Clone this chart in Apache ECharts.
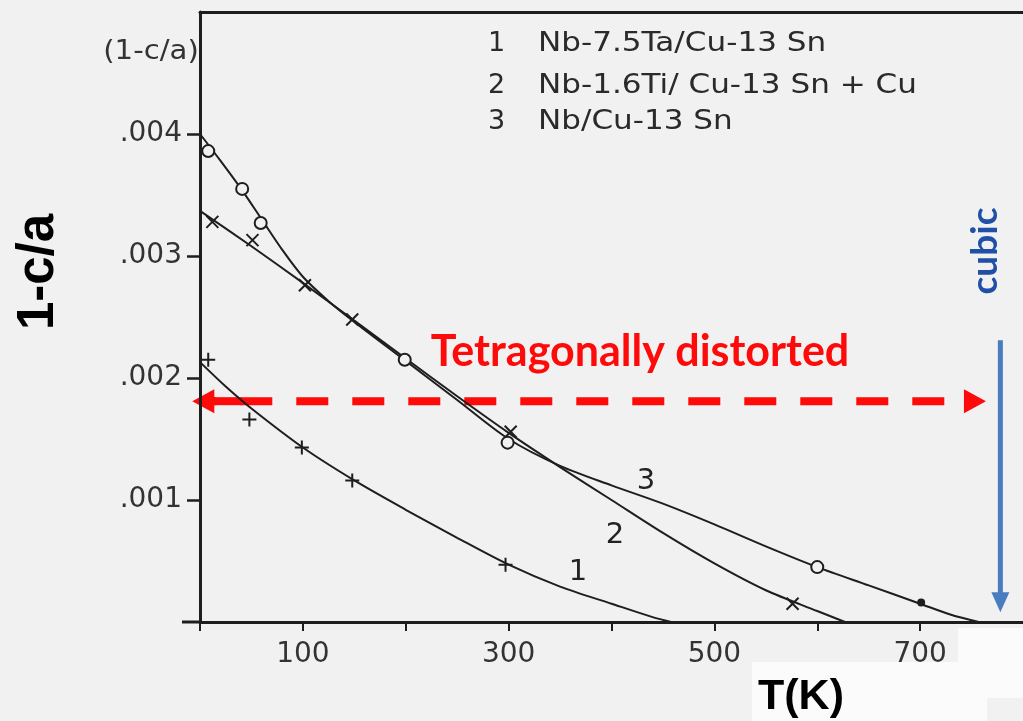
<!DOCTYPE html>
<html>
<head>
<meta charset="utf-8">
<script src="https://cdn.jsdelivr.net/npm/echarts@6/dist/echarts.min.js"></script>
<style>
  html, body { margin: 0; padding: 0; background: #f1f1f1; }
  #chart { width: 1023px; height: 721px; }
</style>
</head>
<body>
<div id="chart"></div>
<script>
// Fitted curves: temperature T (K) and tetragonal distortion 1-c/a
const curve1T = [0, 25, 50, 100, 150, 200, 250, 300, 350, 400, 440, 458];
const curve1V = [0.00213, 0.00193, 0.00175, 0.00143, 0.00116, 0.00092, 0.00069, 0.00047, 0.00029, 0.00015, 0.00004, 0.0];

const curve2T = [0, 50, 100, 150, 200, 250, 300, 350, 400, 450, 500, 550, 600, 627];
const curve2V = [0.00337, 0.00308, 0.00278, 0.00247, 0.00216, 0.00185, 0.00155, 0.00127, 0.00100, 0.00073, 0.00048, 0.00026, 0.00009, 0.0];

const curve3T = [0, 20, 40, 60, 80, 100, 125, 150, 200, 250, 300, 350, 400, 450, 500, 550, 600, 650, 700, 730, 757];
const curve3V = [0.00400, 0.00378, 0.00355, 0.00330, 0.00305, 0.00283, 0.00263, 0.00246, 0.00214, 0.00182, 0.00150, 0.00128, 0.00112, 0.00097, 0.00080, 0.00062, 0.00045, 0.00030, 0.00015, 0.00006, 0.0];

// Measured points
const pts1T = [8, 48, 99, 148, 297];
const pts1V = [0.00215, 0.00166, 0.00143, 0.00116, 0.00047];
const pts2T = [12, 51, 102, 148, 302, 576];
const pts2V = [0.00328, 0.00313, 0.00276, 0.00248, 0.00156, 0.00015];
const pts3T = [8, 41, 59, 199, 299, 600];
const pts3V = [0.00386, 0.00355, 0.00327, 0.00215, 0.00147, 0.00045];
const dotT = [701];
const dotV = [0.00016];

// Axis ticks and labels
const xTicks = [0, 100, 200, 300, 400, 500, 600, 700];
const xLabels = [100, 300, 500, 700];
const yLabels = [0.001, 0.002, 0.003, 0.004];

const legendLines = ['Nb-7.5Ta/Cu-13 Sn', 'Nb-1.6Ti/ Cu-13 Sn + Cu', 'Nb/Cu-13 Sn'];

const INK = '#1e1e1e';
const PAPER = '#f1f1f1';
const SCAN_FONT = 'DejaVu Sans';

function zip(a, b) { return a.map((v, i) => [v, b[i]]); }

const plusPath = 'path://M0,6H12M6,0V12';
const crossPath = 'path://M0,0L12,12M12,0L0,12';

function curve(name, t, v) {
  return {
    name, type: 'line', data: zip(t, v), smooth: 0.3,
    showSymbol: false, silent: true,
    lineStyle: { color: INK, width: 2 }
  };
}
function marks(name, t, v, symbol, size, fill) {
  return {
    name, type: 'scatter', data: zip(t, v), symbol, symbolSize: size,
    silent: true, z: 5,
    itemStyle: { color: fill, borderColor: INK, borderWidth: 2, opacity: 1 }
  };
}

const chart = echarts.init(document.getElementById('chart'), null, { renderer: 'canvas' });

chart.setOption({
  backgroundColor: PAPER,
  animation: false,
  grid: { left: 200, top: 12, right: 0, bottom: 99 },
  xAxis: [{
    type: 'value', min: 0, max: 800, interval: 100,
    axisLine: { lineStyle: { color: INK, width: 3 } },
    axisTick: { customValues: xTicks, length: 9, lineStyle: { color: INK, width: 2 } },
    axisLabel: {
      customValues: xLabels, margin: 19, fontSize: 28, color: '#333',
      fontFamily: SCAN_FONT
    },
    splitLine: { show: false }
  }, {
    type: 'value', position: 'top', min: 0, max: 800,
    axisLine: { lineStyle: { color: INK, width: 3 } },
    axisTick: { show: false }, axisLabel: { show: false }, splitLine: { show: false }
  }],
  yAxis: {
    type: 'value', min: 0, max: 0.005, interval: 0.001,
    axisLine: { lineStyle: { color: INK, width: 3 } },
    axisTick: { customValues: yLabels, length: 13, lineStyle: { color: INK, width: 2.5 } },
    axisLabel: {
      customValues: yLabels, margin: 18, fontSize: 28, color: '#333',
      fontFamily: SCAN_FONT,
      formatter: v => v.toFixed(3).slice(1)
    },
    splitLine: { show: false }
  },
  series: [
    curve('1', curve1T, curve1V),
    curve('2', curve2T, curve2V),
    curve('3', curve3T, curve3V),
    marks('1 pts', pts1T, pts1V, plusPath, 14, 'none'),
    marks('2 pts', pts2T, pts2V, crossPath, 12, 'none'),
    marks('3 pts', pts3T, pts3V, 'circle', 12, PAPER),
    marks('dot', dotT, dotV, 'circle', 6, INK)
  ]
});

// Annotations placed through the axes
const P = (t, v) => chart.convertToPixel({ gridIndex: 0 }, [t, v]);

const arrowY = P(0, 0.00181)[1];
const leftTip = P(-7.5, 0)[0];
const rightTip = P(764, 0)[0];
const headL = 22, headH = 12;
const blueX = P(778, 0)[0];
const blueTop = P(0, 0.00231)[1];
const blueTip = P(0, 0.00008)[1];

const legendNumX = 488, legendTextX = 538;
const legendYs = [44, 86, 122];

const graphics = [
  // page patches of plain white paper
  { type: 'rect', shape: { x: 752, y: 662, width: 235, height: 59 }, style: { fill: '#fbfbfb' }, z: -1 },
  { type: 'rect', shape: { x: 958, y: 628, width: 65, height: 70 }, style: { fill: '#fbfbfb' }, z: -1 },
  // axis stub left of the origin
  { type: 'line', shape: { x1: 182, y1: P(0, 0)[1], x2: 200, y2: P(0, 0)[1] }, style: { stroke: INK, lineWidth: 3 } },
  // y quantity label of the plot
  { type: 'text', x: 151, y: 52, scaleX: 1.08, style: { text: '(1-c/a)', font: '27px "DejaVu Sans"', fill: '#333', align: 'center', verticalAlign: 'middle' } },
  // curve numbers
  { type: 'text', x: 578, y: 572, style: { text: '1', font: '29px "DejaVu Sans"', fill: '#222', align: 'center', verticalAlign: 'middle' } },
  { type: 'text', x: 615, y: 535, style: { text: '2', font: '29px "DejaVu Sans"', fill: '#222', align: 'center', verticalAlign: 'middle' } },
  { type: 'text', x: 646, y: 481, style: { text: '3', font: '29px "DejaVu Sans"', fill: '#222', align: 'center', verticalAlign: 'middle' } },
  // bold axis titles
  { type: 'text', x: 39, y: 272, rotation: Math.PI / 2, style: { text: '1-c/a', font: 'bold 51px "Liberation Sans"', fill: '#000', align: 'center', verticalAlign: 'middle' } },
  { type: 'text', x: 801, y: 697, style: { text: 'T(K)', font: 'bold 43px "Liberation Sans"', fill: '#000', align: 'center', verticalAlign: 'middle' } },
  // tetragonal region
  { type: 'text', x: 640, y: 352, style: { text: 'Tetragonally distorted', font: 'bold 43px Lato', fill: '#ff0a0a', align: 'center', verticalAlign: 'middle' } },
  { type: 'line', shape: { x1: leftTip + headL - 2, y1: arrowY, x2: rightTip - headL + 2, y2: arrowY },
    style: { stroke: '#ff0a0a', lineWidth: 8, lineDash: [32, 24], lineDashOffset: -28 } },
  { type: 'polygon', shape: { points: [[leftTip, arrowY], [leftTip + headL, arrowY - headH], [leftTip + headL, arrowY + headH]] }, style: { fill: '#ff0a0a' } },
  { type: 'rect', shape: { x: leftTip + headL - 1, y: arrowY - 4, width: 29, height: 8 }, style: { fill: '#ff0a0a' } },
  { type: 'polygon', shape: { points: [[rightTip, arrowY], [rightTip - headL, arrowY - headH], [rightTip - headL, arrowY + headH]] }, style: { fill: '#ff0a0a' } },
  // cubic phase marker
  { type: 'line', shape: { x1: blueX, y1: blueTop, x2: blueX, y2: blueTip - 18 }, style: { stroke: '#4a7cc0', lineWidth: 5 } },
  { type: 'polygon', shape: { points: [[blueX, blueTip], [blueX - 9, blueTip - 20], [blueX + 9, blueTip - 20]] }, style: { fill: '#4a7cc0' } },
  { type: 'text', x: 985, y: 251, rotation: Math.PI / 2, style: { text: 'cubic', font: 'bold 37px Lato', fill: '#1f4fa6', align: 'center', verticalAlign: 'middle' } }
];

legendLines.forEach((txt, i) => {
  graphics.push({ type: 'text', x: legendNumX, y: legendYs[i], style: { text: String(i + 1), font: '27px "DejaVu Sans"', fill: '#2a2a2a', align: 'left', verticalAlign: 'middle' } });
  graphics.push({ type: 'text', x: legendTextX, y: legendYs[i], scaleX: 1.15, style: { text: txt, font: '27px "DejaVu Sans"', fill: '#2a2a2a', align: 'left', verticalAlign: 'middle' } });
});

chart.setOption({ graphic: graphics });
</script>
</body>
</html>
